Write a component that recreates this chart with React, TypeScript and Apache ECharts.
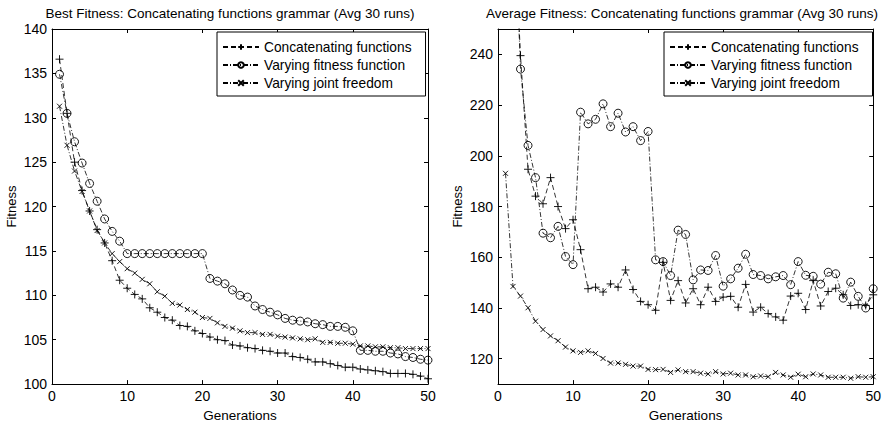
import React, { useEffect, useRef } from "react";
import * as echarts from "echarts";

const GENERATIONS = [
  1, 2, 3, 4, 5, 6, 7, 8, 9, 10, 11, 12, 13, 14, 15, 16, 17, 18, 19, 20, 21, 22, 23, 24, 25,
  26, 27, 28, 29, 30, 31, 32, 33, 34, 35, 36, 37, 38, 39, 40, 41, 42, 43, 44, 45, 46, 47, 48, 49, 50,
];

const SERIES_NAMES = ["Concatenating functions", "Varying fitness function", "Varying joint freedom"];

// Best fitness (left panel)
const BEST_CONCAT = [
  136.6, 130.5, 125.0, 121.8, 119.5, 117.4, 115.9, 113.9, 111.7, 110.8,
  110.1, 109.6, 108.6, 108.1, 107.5, 107.2, 106.6, 106.5, 106.0, 105.7,
  105.3, 105.0, 104.9, 104.4, 104.3, 104.1, 104.0, 103.8, 103.7, 103.5,
  103.5, 103.1, 103.0, 102.8, 102.5, 102.5, 102.3, 102.1, 101.9, 101.9,
  101.7, 101.6, 101.5, 101.4, 101.2, 101.2, 101.2, 101.1, 100.9, 100.6,
];
const BEST_FITNESS_FN = [
  134.9, 130.5, 127.3, 124.9, 122.6, 120.6, 118.6, 117.2, 116.1, 114.7,
  114.7, 114.7, 114.7, 114.7, 114.7, 114.7, 114.7, 114.7, 114.7, 114.7,
  111.9, 111.6, 111.3, 110.6, 110.0, 109.8, 108.8, 108.4, 108.1, 107.8,
  107.4, 107.2, 107.1, 107.0, 106.8, 106.7, 106.5, 106.5, 106.4, 106.0,
  103.8, 103.8, 103.7, 103.7, 103.5, 103.4, 103.1, 103.0, 102.8, 102.7,
];
const BEST_JOINT = [
  131.3, 126.9, 124.0, 121.7, 119.5, 117.3, 115.9, 114.7, 113.8, 113.0,
  112.5, 111.8, 111.3, 110.4, 109.9, 109.1, 108.9, 108.4, 108.1, 107.5,
  107.4, 106.9, 106.5, 106.3, 106.0, 105.8, 105.8, 105.6, 105.6, 105.4,
  105.3, 105.2, 105.1, 105.0, 105.1, 104.7, 104.7, 104.6, 104.6, 104.5,
  104.3, 104.3, 104.2, 104.2, 104.1, 104.1, 104.0, 104.0, 104.0, 104.0,
];

// Average fitness (right panel)
const AVG_CONCAT = [
  380.0, 300.0, 239.5, 194.7, 184.1, 181.1, 191.4, 180.0, 171.3, 174.8,
  163.0, 147.6, 148.2, 146.3, 149.5, 148.2, 155.0, 147.3, 142.6, 141.3,
  139.1, 158.0, 143.0, 150.8, 142.0, 147.6, 141.3, 148.2, 142.6, 144.3,
  144.6, 140.3, 149.3, 138.4, 140.3, 137.8, 136.5, 135.2, 144.7, 145.8,
  139.4, 150.8, 140.8, 146.5, 147.8, 145.2, 141.0, 141.3, 141.0, 145.2,
];
const AVG_FITNESS_FN = [
  390.0, 310.0, 234.2, 204.1, 191.4, 169.5, 167.7, 172.2, 160.3, 157.1,
  217.2, 212.6, 214.4, 220.5, 211.5, 216.8, 209.4, 211.5, 206.0, 209.6,
  159.0, 158.3, 152.8, 170.7, 169.0, 151.1, 155.0, 154.8, 160.7, 148.6,
  151.5, 155.7, 161.2, 153.2, 152.8, 151.5, 152.3, 152.8, 149.2, 158.3,
  152.9, 152.5, 149.4, 154.1, 153.5, 143.9, 150.2, 144.6, 140.0, 147.6,
];
const AVG_JOINT = [
  193.1, 148.5, 144.7, 140.1, 134.8, 131.5, 129.0, 127.1, 124.6, 123.1,
  122.5, 123.1, 122.1, 120.1, 118.3, 118.3, 117.8, 117.1, 117.1, 115.8,
  115.7, 115.8, 114.6, 115.6, 114.9, 114.9, 114.3, 114.0, 114.9, 114.0,
  114.3, 113.6, 113.6, 112.9, 113.2, 112.9, 114.6, 113.6, 112.7, 113.9,
  112.9, 114.0, 113.6, 112.7, 112.7, 112.7, 112.3, 112.9, 112.7, 112.9,
];

const X_TICKS = [0, 10, 20, 30, 40, 50];
const BEST_Y_TICKS = [100, 105, 110, 115, 120, 125, 130, 135, 140];
const AVG_Y_TICKS = [120, 140, 160, 180, 200, 220, 240];

const TITLES = [
  "Best Fitness: Concatenating functions grammar (Avg 30 runs)",
  "Average Fitness: Concatenating functions grammar (Avg 30 runs)",
];

const FONT = "Liberation Sans";

const PLUS = "path://M0,5L10,5M5,0L5,10";
const CROSS = "path://M0,0L10,10M10,0L0,10";

export default function App() {
  const ref = useRef<HTMLDivElement>(null);

  useEffect(() => {
    if (!ref.current) return;
    const chart = echarts.init(ref.current, undefined, { renderer: "svg" });

    const grids = [
      { left: 52, top: 29, width: 376, height: 356 },
      { left: 498, top: 29, width: 376, height: 356 },
    ];

    const axisLineStyle = { color: "#000", width: 1 };
    const labelStyle = { color: "#000", fontSize: 14, fontFamily: FONT };

    const xAxes: any[] = [];
    const yAxes: any[] = [];
    const yConf = [
      { min: 100, max: 140, ticks: BEST_Y_TICKS },
      { min: 110, max: 250, ticks: AVG_Y_TICKS },
    ];
    [0, 1].forEach((g) => {
      ["bottom", "top"].forEach((pos) => {
        xAxes.push({
          type: "value",
          gridIndex: g,
          position: pos,
          min: 0,
          max: 50,
          interval: 10,
          axisLine: { show: true, onZero: false, lineStyle: axisLineStyle },
          axisTick: { show: true, inside: true, length: 4, lineStyle: axisLineStyle, customValues: X_TICKS },
          axisLabel: { show: pos === "bottom", margin: 5, customValues: X_TICKS, ...labelStyle },
          splitLine: { show: false },
          name: pos === "bottom" ? "Generations" : "",
          nameLocation: "middle",
          nameGap: 21,
          nameTextStyle: { color: "#000", fontSize: 13.5, fontFamily: FONT },
        });
      });
      ["left", "right"].forEach((pos) => {
        yAxes.push({
          type: "value",
          gridIndex: g,
          position: pos,
          min: yConf[g].min,
          max: yConf[g].max,
          axisLine: { show: true, onZero: false, lineStyle: axisLineStyle },
          axisTick: { show: true, inside: true, length: 4, lineStyle: axisLineStyle, customValues: yConf[g].ticks },
          axisLabel: { show: pos === "left", margin: 5, customValues: yConf[g].ticks, ...labelStyle },
          splitLine: { show: false },
          name: pos === "left" ? "Fitness" : "",
          nameLocation: "middle",
          nameGap: 34,
          nameTextStyle: { color: "#000", fontSize: 13, fontFamily: FONT },
        });
      });
    });

    const styles = [
      { symbol: PLUS, symbolSize: 8, type: [5, 3] },
      { symbol: "circle", symbolSize: 8, type: [5, 2, 1, 2] },
      { symbol: CROSS, symbolSize: 5, type: [5, 2, 1, 2] },
    ];
    const panels = [
      [BEST_CONCAT, BEST_FITNESS_FN, BEST_JOINT],
      [AVG_CONCAT, AVG_FITNESS_FN, AVG_JOINT],
    ];

    const series: any[] = [];
    panels.forEach((vals, g) => {
      vals.forEach((arr, i) => {
        series.push({
          type: "line",
          name: SERIES_NAMES[i],
          xAxisIndex: g * 2,
          yAxisIndex: g * 2,
          data: GENERATIONS.map((gen, k) => [gen, arr[k]]),
          symbol: styles[i].symbol,
          symbolSize: styles[i].symbolSize,
          showAllSymbol: true,
          clip: true,
          lineStyle: { color: "#000", width: 0.8, type: styles[i].type },
          itemStyle: { color: "transparent", borderColor: "#000", borderWidth: 0.9 },
          emphasis: { disabled: true },
        });
      });
    });

    const legendBase = {
      orient: "vertical",
      top: 32,
      data: SERIES_NAMES,
      itemWidth: 36,
      itemHeight: 7,
      itemGap: 4,
      padding: [8, 14, 6, 5],
      borderColor: "#000",
      borderWidth: 1,
      backgroundColor: "#fff",
      selectedMode: false,
      textStyle: { color: "#000", fontSize: 13.75, fontFamily: FONT },
    };

    chart.setOption({
      animation: false,
      backgroundColor: "#fff",
      title: TITLES.map((t, i) => ({
        text: t,
        left: i === 0 ? 225 : 677,
        textAlign: "center",
        top: 1,
        textStyle: { color: "#000", fontSize: 13.5, fontWeight: "normal", fontFamily: FONT },
      })),
      grid: grids,
      xAxis: xAxes,
      yAxis: yAxes,
      legend: [
        { ...legendBase, left: 217 },
        { ...legendBase, left: 664 },
      ],
      series,
    });

    return () => chart.dispose();
  }, []);

  return (
    <div
      ref={ref}
      style={{ position: "fixed", left: 0, top: 0, width: 884, height: 427, background: "#fff" }}
    />
  );
}
